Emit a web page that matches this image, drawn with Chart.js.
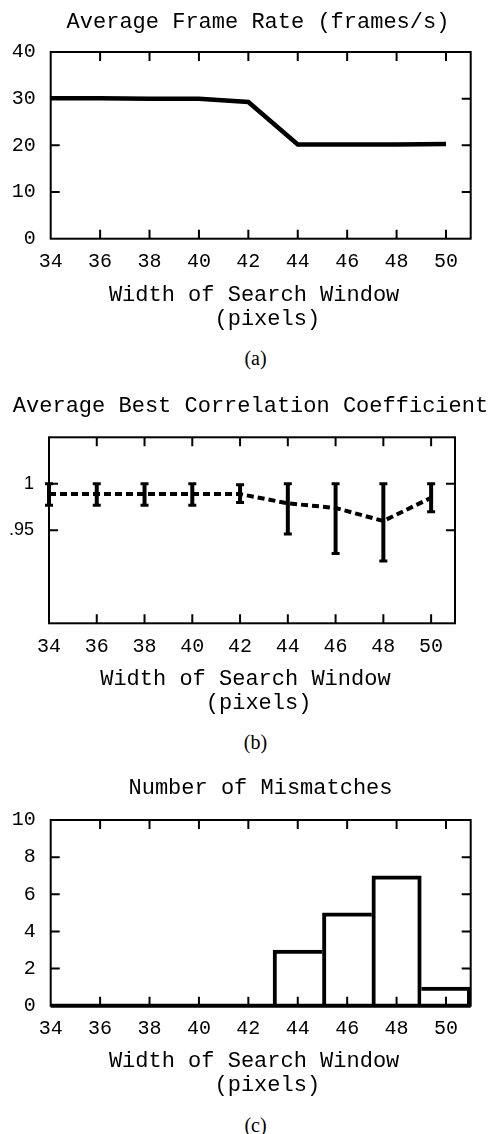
<!DOCTYPE html>
<html>
<head>
<meta charset="utf-8">
<script src="https://cdn.jsdelivr.net/npm/chart.js@4.4.0/dist/chart.umd.min.js"></script>
<style>
  html, body { margin: 0; padding: 0; background: #fff; overflow: hidden; }
  body { width: 490px; height: 1134px; position: relative; }
  canvas { position: absolute; left: 0; }
  .cap { position: absolute; left: 0; width: 511px; text-align: center; font-family: 'Liberation Serif', serif; font-size: 20px; line-height: 20px; color: #000; }
</style>
</head>
<body>
<canvas id="rate" width="516" height="340" style="top:0px"></canvas>
<div class="cap" style="top:348px">(a)</div>
<canvas id="corr" width="501" height="350" style="top:370px"></canvas>
<div class="cap" style="top:732px">(b)</div>
<canvas id="miss" width="521" height="355" style="top:750px"></canvas>
<div class="cap" style="top:1115px">(c)</div>
<script>
// search window widths, shared by the three panels
const widths = [34, 36, 38, 40, 42, 44, 46, 48, 50];

// (a) average frame rate (frames/s)
const frameRate = [30.1, 30.1, 30.0, 30.0, 29.3, 20.2, 20.2, 20.2, 20.3];

// (b) average best correlation coefficient, with error bars
const corrMean = [0.989, 0.989, 0.989, 0.989, 0.989, 0.979, 0.974, 0.960, 0.985];
const corrLow  = [0.977, 0.977, 0.977, 0.977, 0.980, 0.946, 0.925, 0.917, 0.970];
const corrHigh = [1.000, 1.000, 1.000, 1.000, 0.999, 1.000, 1.000, 1.000, 1.000];
const corrTicks = [0.95, 1];
const corrTickLabels = ['.95', '1'];

// (c) number of mismatches, one 2-pixel bin per width
const mismatches = [0, 0, 0, 0, 0, 3, 5, 7, 1];

const xTitle = ['Width of Search Window ', '  (pixels) '];

Chart.defaults.font.family = "'Liberation Mono', 'Courier New', monospace";
Chart.defaults.color = '#000';

// box around the plot with small inward ticks on all four sides
const frame = {
  id: 'frame',
  afterDatasetsDraw(chart, args, opts) {
    const ctx = chart.ctx, a = chart.chartArea;
    const x = chart.scales.x, y = chart.scales.y;
    const len = 9;
    ctx.save();
    ctx.strokeStyle = '#000';
    ctx.lineWidth = 2;
    ctx.beginPath();
    x.ticks.forEach(t => {
      const px = x.getPixelForValue(t.value);
      if (px < a.left + 2 || px > a.right - 2) return;
      ctx.moveTo(px, a.top); ctx.lineTo(px, a.top + len);
      ctx.moveTo(px, a.bottom); ctx.lineTo(px, a.bottom - len);
    });
    y.ticks.forEach(t => {
      const py = y.getPixelForValue(t.value);
      if (py < a.top + 2 || py > a.bottom - 2) return;
      ctx.moveTo(a.left, py); ctx.lineTo(a.left + len, py);
      ctx.moveTo(a.right, py); ctx.lineTo(a.right - len, py);
    });
    ctx.stroke();
    ctx.strokeRect(a.left, a.top, a.width, a.height);
    if (opts.bottom) {
      ctx.lineWidth = opts.bottom;
      ctx.beginPath();
      ctx.moveTo(a.left, a.bottom); ctx.lineTo(a.right, a.bottom);
      ctx.stroke();
    }
    ctx.restore();
  }
};

const errorBars = {
  id: 'errorBars',
  afterDatasetsDraw(chart) {
    const ctx = chart.ctx, x = chart.scales.x, y = chart.scales.y;
    ctx.save();
    ctx.strokeStyle = '#000';
    widths.forEach((w, i) => {
      const px = x.getPixelForValue(w);
      const top = y.getPixelForValue(corrHigh[i]);
      const bot = y.getPixelForValue(corrLow[i]);
      ctx.lineWidth = 4;
      ctx.beginPath(); ctx.moveTo(px, top); ctx.lineTo(px, bot); ctx.stroke();
      ctx.lineWidth = 3;
      ctx.beginPath();
      ctx.moveTo(px - 4, top); ctx.lineTo(px + 4, top);
      ctx.moveTo(px - 4, bot); ctx.lineTo(px + 4, bot);
      ctx.stroke();
    });
    ctx.restore();
  }
};

function options(g) {
  return {
    responsive: false,
    animation: false,
    layout: { padding: 0 },
    plugins: {
      legend: { display: false },
      tooltip: { enabled: false },
      title: {
        display: true, text: g.title, color: '#000',
        font: { size: 22, weight: 'normal', lineHeight: 1.2 },
        padding: { top: g.titleTop, bottom: g.titleBottom }
      },
      frame: { bottom: g.bottomLine || 0 }
    },
    scales: {
      x: {
        type: 'linear', min: 34, max: 51, offset: false,
        grid: { display: false }, border: { display: false },
        afterBuildTicks: s => { s.ticks = widths.map(v => ({ value: v })); },
        afterFit: s => { s.height = g.xHeight; },
        ticks: { font: { size: 20 }, padding: g.tickPad, autoSkip: false, maxRotation: 0 },
        title: {
          display: true, text: xTitle,
          font: { size: 22, lineHeight: 1.1 },
          padding: { top: 0, bottom: g.xTitleBottom }
        }
      },
      y: Object.assign({
        min: g.yMin, max: g.yMax,
        grid: { display: false }, border: { display: false },
        afterFit: s => { s.width = g.yWidth; }
      }, g.y),
      y2: {
        position: 'right', display: true,
        grid: { display: false }, border: { display: false },
        ticks: { display: false },
        afterFit: s => { s.width = g.rightWidth; }
      }
    }
  };
}

new Chart(document.getElementById('rate'), {
  type: 'line',
  data: {
    datasets: [{
      data: widths.map((w, i) => ({ x: w, y: frameRate[i] })),
      borderColor: '#000', borderWidth: 4.5, pointRadius: 0, tension: 0, yAxisID: 'y'
    }]
  },
  options: options({
    title: 'Average Frame Rate (frames/s)',
    titleTop: 9, titleBottom: 16.6,
    yWidth: 50.7, rightWidth: 45.3, xHeight: 101.3, tickPad: 2.8, xTitleBottom: 8.9,
    yMin: 0, yMax: 40,
    y: { ticks: { stepSize: 10, font: { size: 20 }, padding: 7 } }
  }),
  plugins: [frame]
});

new Chart(document.getElementById('corr'), {
  type: 'line',
  data: {
    datasets: [{
      data: widths.map((w, i) => ({ x: w, y: corrMean[i] })),
      borderColor: '#000', borderWidth: 4, borderDash: [7, 4],
      pointRadius: 0, tension: 0, yAxisID: 'y'
    }]
  },
  options: options({
    title: 'Average Best Correlation Coefficient',
    titleTop: 22.8, titleBottom: 18.1,
    yWidth: 49, rightWidth: 46, xHeight: 96.7, tickPad: 3.4, xTitleBottom: 4.9,
    yMin: 0.85, yMax: 1.05,
    y: {
      afterBuildTicks: s => { s.ticks = corrTicks.map(v => ({ value: v })); },
      ticks: {
        font: { family: "'Liberation Sans', Arial, sans-serif", size: 18 },
        padding: 7,
        callback: (v, i) => corrTickLabels[i]
      }
    }
  }),
  plugins: [frame, errorBars]
});

new Chart(document.getElementById('miss'), {
  type: 'bar',
  data: {
    datasets: [{
      data: widths.map((w, i) => ({ x: w, y: mismatches[i] })),
      backgroundColor: '#fff', borderColor: '#000', borderSkipped: false,
      categoryPercentage: 1, barPercentage: 1, yAxisID: 'y',
      borderWidth: c => {
        const i = c.dataIndex;
        if (i === undefined) return 4;
        const v = mismatches[i];
        const prev = i > 0 ? mismatches[i - 1] : 0;
        const next = i < mismatches.length - 1 ? mismatches[i + 1] : 0;
        return { top: 4, bottom: 0, left: prev < v ? 4 : 0, right: next <= v ? 4 : 0 };
      }
    }]
  },
  options: options({
    title: 'Number of Mismatches',
    titleTop: 25.1, titleBottom: 18.5,
    yWidth: 50.7, rightWidth: 50.3, xHeight: 99.3, tickPad: 2.6, xTitleBottom: 7.9,
    yMin: 0, yMax: 10, bottomLine: 4,
    y: { ticks: { stepSize: 2, font: { size: 20 }, padding: 7 } }
  }),
  plugins: [frame]
});
</script>
</body>
</html>
